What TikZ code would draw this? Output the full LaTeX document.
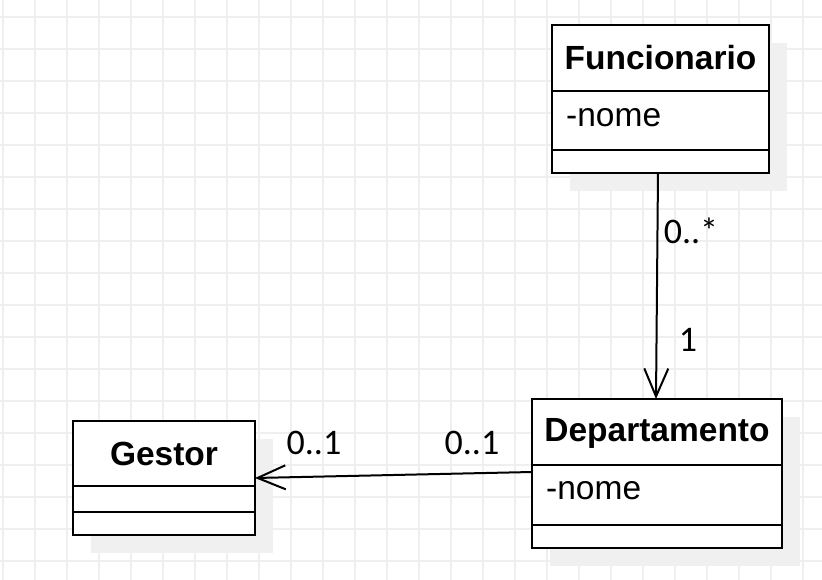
\documentclass[tikz,border=0pt]{standalone}
\usepackage{fontspec}
\setmainfont{Liberation Sans}
\newfontfamily\labfont{Carlito}
\usetikzlibrary{arrows.meta}
\definecolor{gridc}{HTML}{EFEFEF}
\definecolor{shadowc}{HTML}{F0F0F0}
\tikzset{
  classbox/.style={draw=black, line width=2pt, fill=white, rectangle, inner sep=0pt, outer sep=0pt},
  shadowbox/.style={fill=shadowc, draw=none, rectangle, inner sep=0pt, outer sep=0pt},
  divider/.style={draw=black, line width=2pt},
  gridline/.style={draw=gridc, line width=2pt},
  title/.style={font=\fontsize{33.5}{38}\selectfont\bfseries, inner sep=0pt},
  attr/.style={font=\fontsize{33.5}{38}\selectfont, inner sep=0pt, anchor=west},
  mult/.style={font=\labfont\fontsize{36}{40}\selectfont, inner sep=0pt},
  assoc/.style={draw=black, line width=2pt, -{Straight Barb[length=28pt,width=24pt,line width=2pt]}}
}
\begin{document}
\begin{tikzpicture}[x=1pt,y=-1pt]
\useasboundingbox (0,0) rectangle (822,580);
\fill[white] (0,0) rectangle (822,580);
% grid
\foreach \i in {0,...,25} {\draw[gridline] (2.7+32*\i,0) -- (2.7+32*\i,580);}
\foreach \j in {0,...,18} {\draw[gridline] (0,16.7+32*\j) -- (822,16.7+32*\j);}
% shadows
\node[shadowbox, minimum width=217pt, minimum height=148pt] (Fs) at (678.5,117) {};
\node[shadowbox, minimum width=182pt, minimum height=114pt] (Gs) at (182,496) {};
\node[shadowbox, minimum width=250pt, minimum height=149pt] (Ds) at (675,491.5) {};
% class boxes
\node[classbox, minimum width=217pt, minimum height=148pt] (F) at (660.5,99) {};
\node[classbox, minimum width=182pt, minimum height=114pt] (G) at (164,478) {};
\node[classbox, minimum width=250pt, minimum height=149pt] (D) at (657,473.5) {};
% dividers
\draw[divider] (F.west |- 0,91) -- (F.east |- 0,91);
\draw[divider] (F.west |- 0,150) -- (F.east |- 0,150);
\draw[divider] (G.west |- 0,486) -- (G.east |- 0,486);
\draw[divider] (G.west |- 0,512) -- (G.east |- 0,512);
\draw[divider] (D.west |- 0,465) -- (D.east |- 0,465);
\draw[divider] (D.west |- 0,525) -- (D.east |- 0,525);
% texts
\node[title] (Ft) at (660.5,58) {Funcionario};
\node[attr] (Fa) at (566,118) {-nome};
\node[title] (Gt) at (164,454) {Gestor};
\node[title] (Dt) at (657,433) {Departamento};
\node[attr] (Da) at (546,491) {-nome};
% associations
\draw[assoc] ([xshift=-2.5pt]F.south) -- ([xshift=-1pt]D.north);
\draw[assoc] ([yshift=1.5pt]D.west) -- (G.east);
% multiplicities
\node[mult] (m1) at (691,231) {0..*};
\node[mult] (m2) at (688,340) {1};
\node[mult] (m3) at (314,443) {0..1};
\node[mult] (m4) at (472,443) {0..1};
\end{tikzpicture}
\end{document}
